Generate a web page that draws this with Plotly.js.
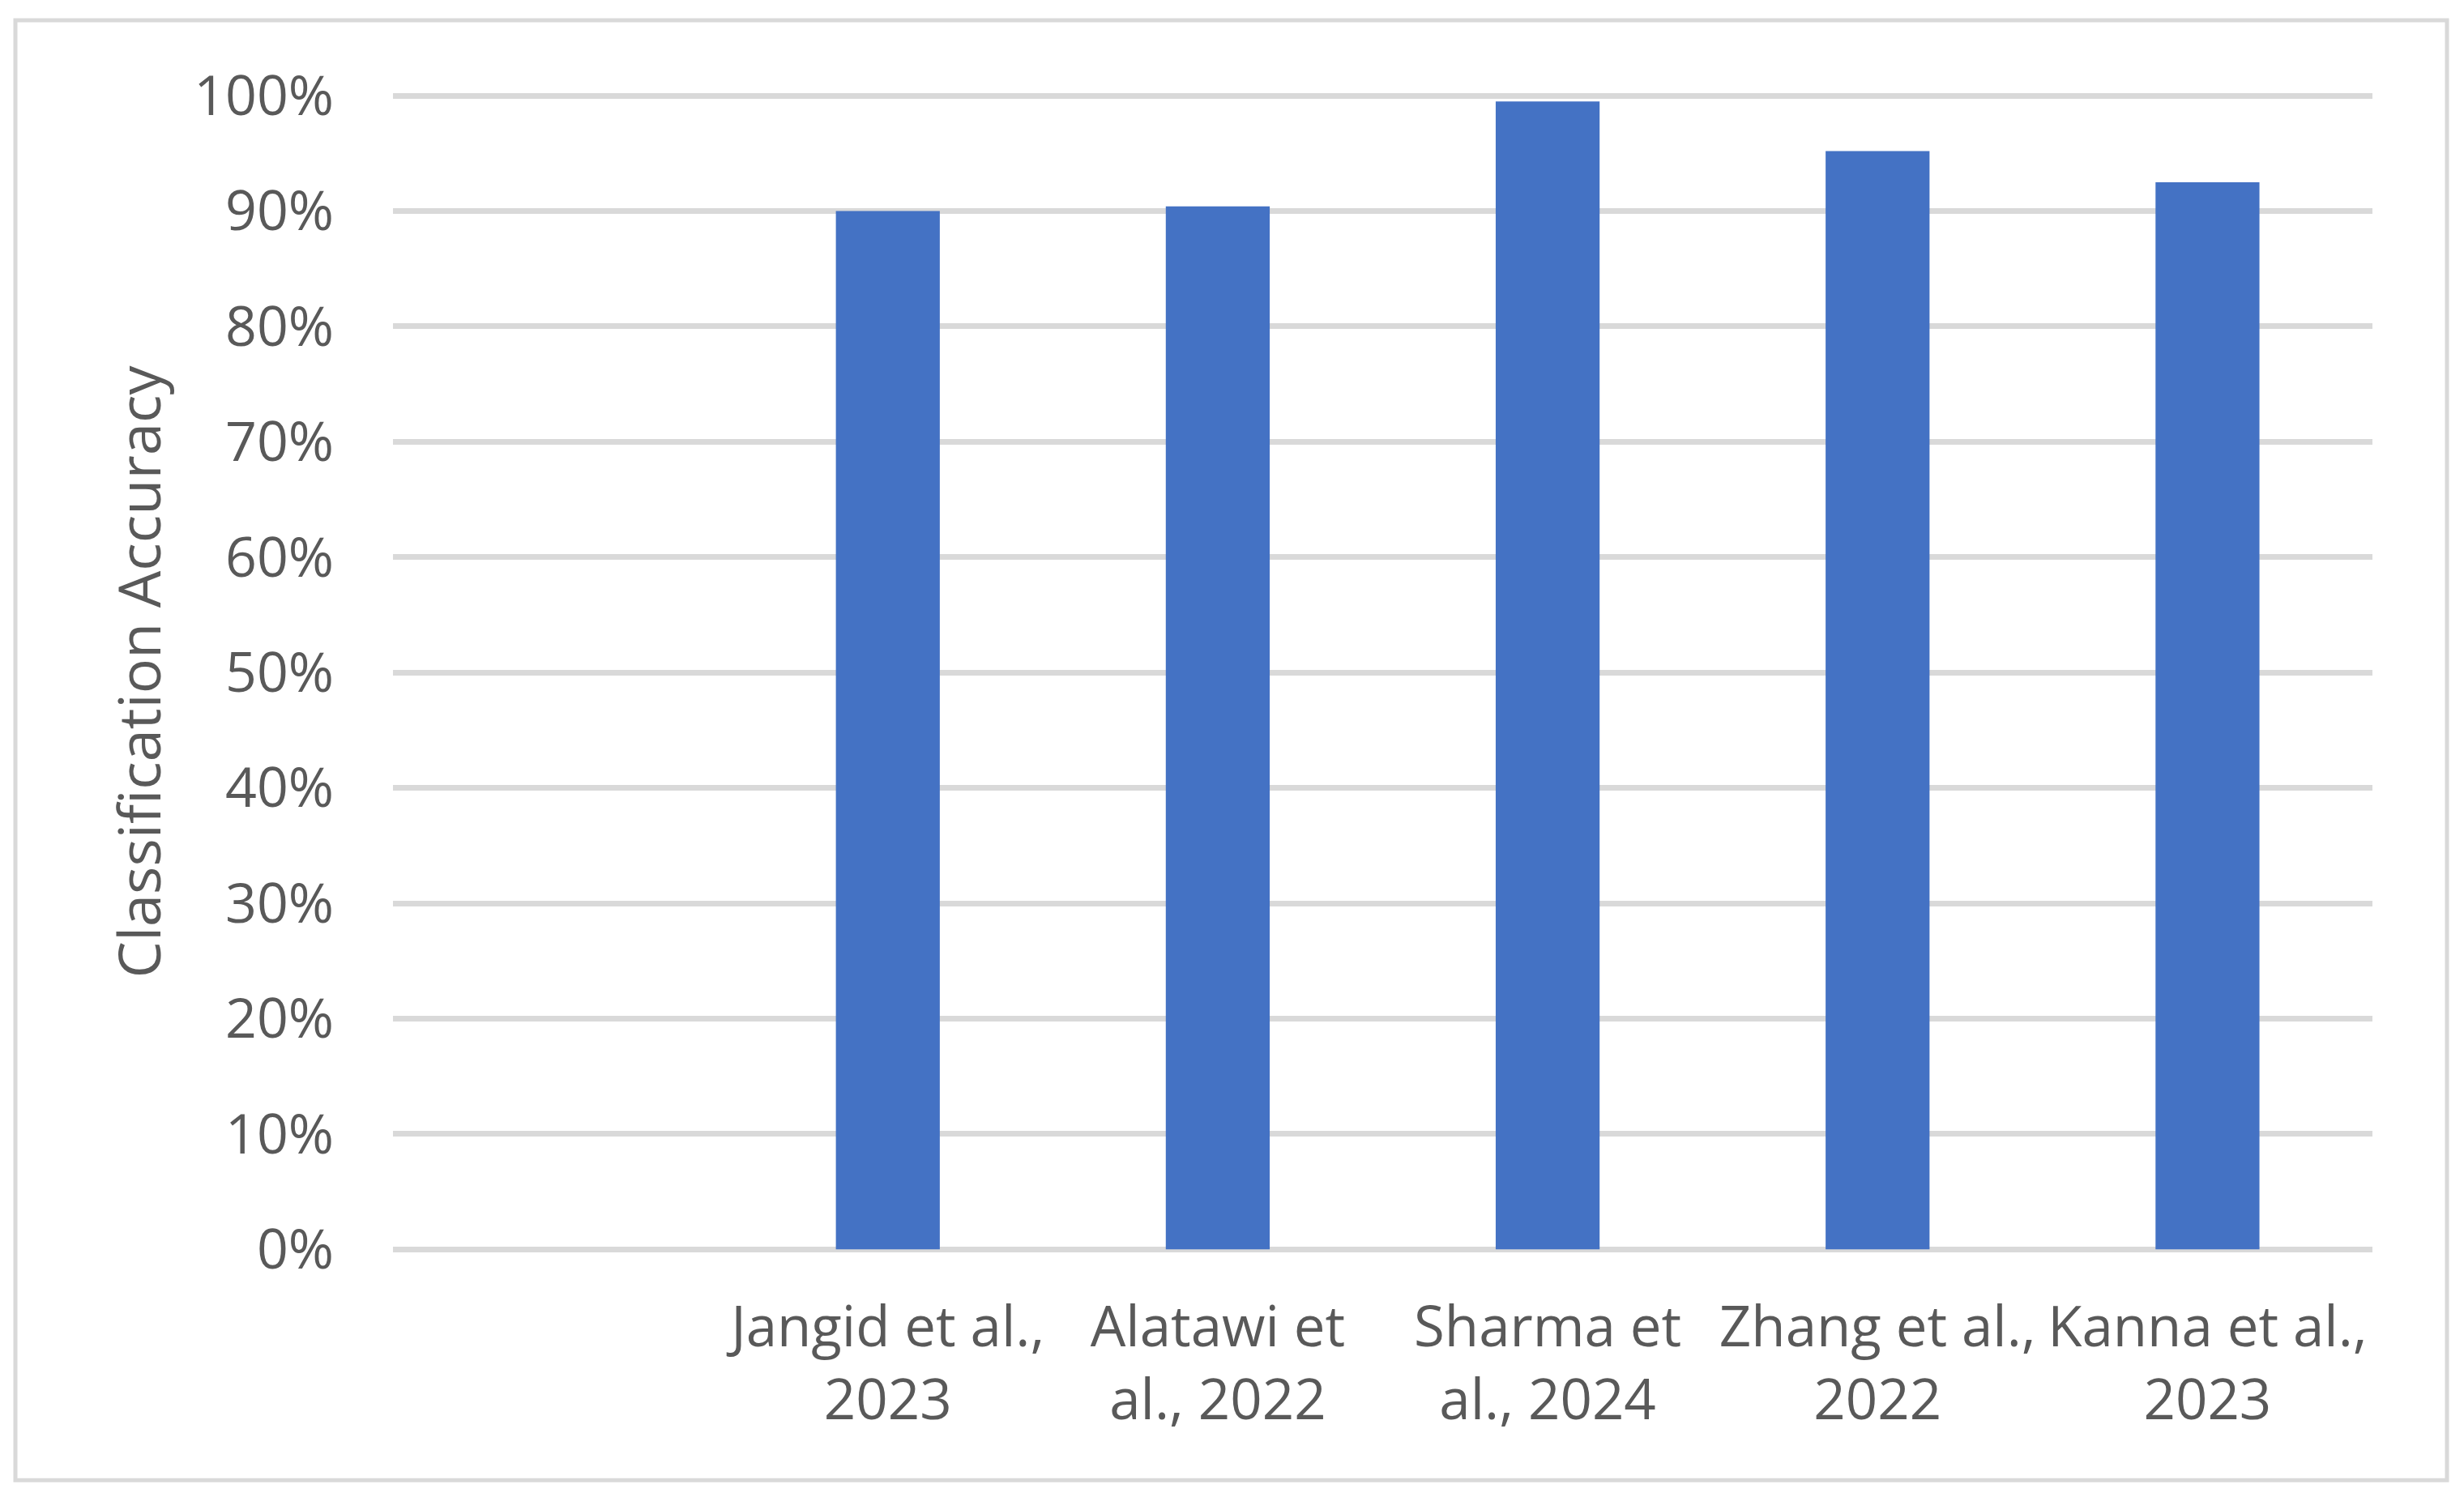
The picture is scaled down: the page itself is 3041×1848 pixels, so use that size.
<!DOCTYPE html>
<html>
<head>
<meta charset="utf-8">
<script src="https://cdn.plot.ly/plotly-3.0.1.min.js"></script>
<style>
  html, body { margin: 0; padding: 0; background: #ffffff; }
  #chart { width: 3041px; height: 1848px; }
</style>
</head>
<body>
<div id="chart"></div>
<script>
// ---- Data ----
const categories = [" ", "Jangid et al.,<br>2023", "Alatawi et<br>al., 2022", "Sharma et<br>al., 2024", "Zhang et al.,<br>2022", "Kanna et al.,<br>2023"];
const accuracy = [null, 0.900, 0.904, 0.995, 0.952, 0.925];
const yTickValues = [0, 0.1, 0.2, 0.3, 0.4, 0.5, 0.6, 0.7, 0.8, 0.9, 1.0];
const yTickLabels = ["0%", "10%", "20%", "30%", "40%", "50%", "60%", "70%", "80%", "90%", "100%"];
const yAxisTitle = "Classification Accuracy";

// ---- Layout geometry (pixels) ----
const W = 3041, H = 1848;
const y0px = 1542, y100px = 118;           // pixel rows of 0% and 100%
const pxPerUnit = y0px - y100px;
const yMin = -0.004, yMax = 1.005;          // small pad so edge gridlines are drawn
const plotL = 485, plotR = 2928;
const plotT = y100px - (yMax - 1) * pxPerUnit;
const plotB = y0px + (0 - yMin) * pxPerUnit;
const pw = plotR - plotL, ph = plotB - plotT;
const box = {l: 19, r: 3020, t: 25, b: 1827};
const px2x = v => (v - plotL) / pw;
const px2y = v => (plotB - v) / ph;

const fontFam = "'Open Sans', 'Noto Sans', sans-serif";
const textColor = "#595959";
const gridColor = "#d9d9d9";

const trace = {
  type: "bar",
  x: categories,
  y: accuracy,
  marker: {color: "#4472C4", line: {width: 0}},
  hoverinfo: "skip"
};

const layout = {
  width: W,
  height: H,
  margin: {l: plotL, r: W - plotR, t: plotT, b: H - plotB, pad: 0},
  paper_bgcolor: "#ffffff",
  plot_bgcolor: "#ffffff",
  showlegend: false,
  bargap: 0.685,
  font: {family: fontFam, color: textColor, size: 68},
  xaxis: {
    type: "category",
    categoryorder: "array",
    categoryarray: categories,
    showgrid: false,
    zeroline: false,
    showline: false,
    ticks: "",
    tickfont: {family: fontFam, color: textColor, size: 69},
    ticklabelstandoff: 44,
    fixedrange: true
  },
  yaxis: {
    range: [yMin, yMax],
    tickmode: "array",
    tickvals: yTickValues,
    ticktext: yTickLabels,
    showgrid: true,
    gridcolor: gridColor,
    gridwidth: 7,
    zeroline: false,
    showline: false,
    ticks: "",
    tickfont: {family: fontFam, color: textColor, size: 68},
    ticklabelstandoff: 72,
    title: {text: yAxisTitle, font: {family: fontFam, color: textColor, size: 72}, standoff: 16},
    fixedrange: true
  },
  shapes: [{
    type: "rect",
    xref: "paper", yref: "paper",
    x0: px2x(box.l), x1: px2x(box.r),
    y0: px2y(box.b), y1: px2y(box.t),
    line: {color: gridColor, width: 5},
    fillcolor: "rgba(0,0,0,0)",
    layer: "below"
  }]
};

Plotly.newPlot("chart", [trace], layout, {displayModeBar: false, staticPlot: true});
</script>
</body>
</html>
